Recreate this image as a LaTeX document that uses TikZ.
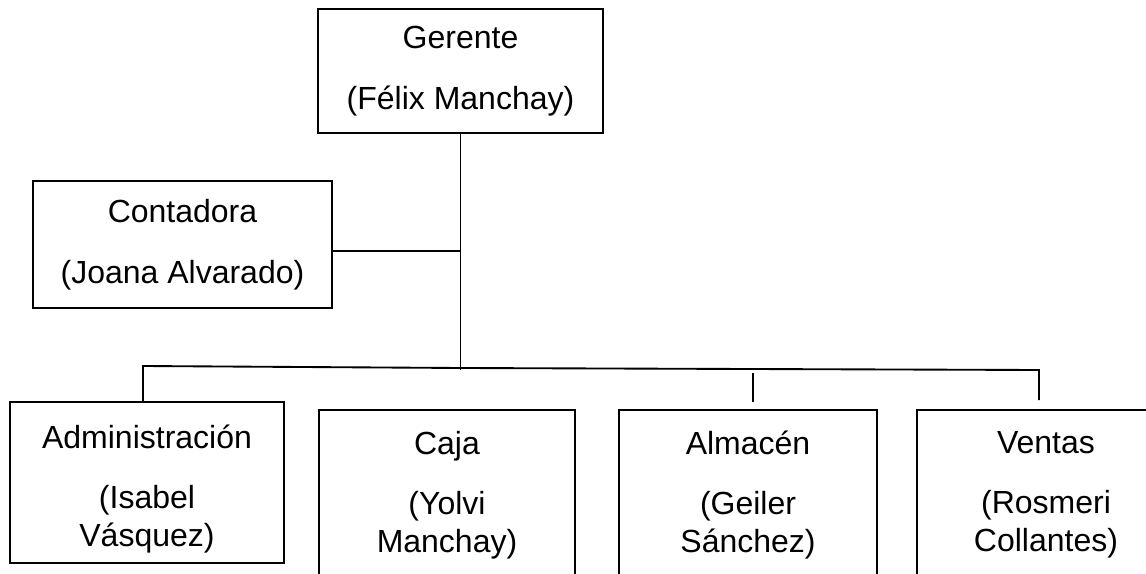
\documentclass[tikz,border=0pt]{standalone}
\usepackage{fontspec}
\setmainfont{Liberation Sans}
\usetikzlibrary{calc}

\tikzset{
  cargo/.style={draw, line width=0.9pt, align=center, inner sep=0pt,
                font=\fontsize{24}{28.5}\selectfont},
  linea/.style={line width=1.4pt},
}

\begin{document}
\begin{tikzpicture}[x=0.75pt, y=-0.75pt]
                % Frame
                \clip (0,0) rectangle (1146,574);

                % Boxes
                \node[cargo, minimum width=213.75pt, minimum height=93pt] (Ger) at (460.5,71)
                    {Gerente\\[17.25pt](Félix Manchay)};
                \node[cargo, minimum width=224.25pt, minimum height=95.25pt] (Cont) at (182.5,244.5)
                    {Contadora\\[17.25pt](Joana Alvarado)};
                \node[cargo, minimum width=205.5pt, minimum height=120.75pt] (Adm) at (147,482.5)
                    {\rule{0pt}{27pt}Administración\\[16.5pt](Isabel\\Vásquez)};
                \node[cargo, minimum width=192pt, minimum height=127.5pt] (Caja) at (447,495)
                    {Caja\\[16.5pt](Yolvi\\Manchay)};
                \node[cargo, minimum width=193.5pt, minimum height=127.5pt] (Alm) at (748,495)
                    {Almacén\\[16.5pt](Geiler\\Sánchez)};
                \node[cargo, minimum width=193.5pt, minimum height=127.5pt] (Ven) at (1046,495)
                    {Ventas\\[16.5pt](Rosmeri\\Collantes)};

                % Points
                \coordinate (BusL) at (143,366);
                \coordinate (BusM) at (461,368);
                \coordinate (BusR) at (1039,370);
                \coordinate (AlmT) at (753,373);
                \coordinate (AlmB) at (753,402);
                \coordinate (VenB) at (1039,400);

                % Lines
                \draw[linea] (Ger.south) -- ($(Ger.south |- BusM)+(0,2)$);
                \draw[linea] ([yshift=-4.9pt]Cont.east) -- ([yshift=-4.9pt]Cont.east -| Ger.south);
                \draw[linea] (Adm.north -| BusL) -- (BusL) -- (BusM) -- (BusR) -- (VenB);
                \draw[linea] (AlmT) -- (AlmB);
\end{tikzpicture}
\end{document}
